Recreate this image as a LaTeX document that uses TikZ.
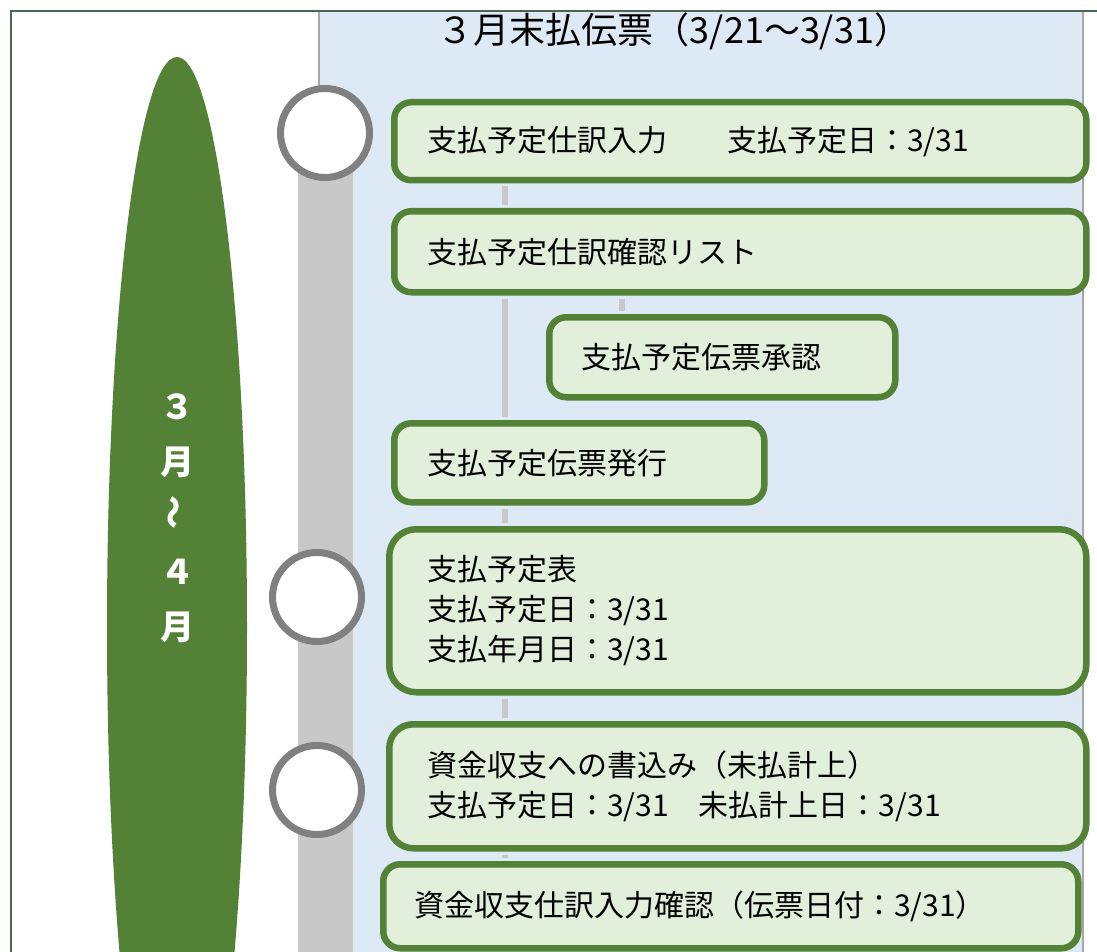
\documentclass[tikz,border=0pt]{standalone}
\usepackage{fontspec}
\setmainfont{Noto Sans CJK JP}
\usepackage{tikz}
\usetikzlibrary{positioning}

\definecolor{leafgreen}{HTML}{538135}
\definecolor{boxfill}{HTML}{E2EFDA}
\definecolor{panelblue}{HTML}{DDEAF6}
\definecolor{bargray}{HTML}{C8C8C8}
\definecolor{ringgray}{HTML}{808080}
\definecolor{framecol}{HTML}{4A6552}

\tikzset{
  stepbox/.style={draw=leafgreen, fill=boxfill, line width=6.5pt, rounded corners=17pt,
    anchor=north west, align=left, inner ysep=0pt, inner xsep=33pt,
    font=\fontsize{30}{40}\selectfont},
  ring/.style={circle, draw=ringgray, line width=7pt, fill=white, minimum size=89pt, inner sep=0pt},
  link/.style={draw=bargray, line width=6pt, shorten <=3pt, shorten >=3pt}
}

\begin{document}
\begin{tikzpicture}[x=1pt, y=-1pt]
\useasboundingbox (0,0) rectangle (1097,952);
\clip (0,0) rectangle (1097,952);

% panel and frame
\fill[panelblue] (319,11) rectangle (1083,960);
\draw[gray!70, line width=1.5pt] (319,11) -- (319,960);
\draw[gray!70, line width=1.5pt] (1083,11) -- (1083,960);
\draw[framecol, line width=2pt] (10.5,960) -- (10.5,11) -- (1097,11);

\node (title) at (674,31) {\fontsize{36}{40}\selectfont ３月末払伝票（3/21～3/31）};

% period
\fill[leafgreen] (177,627) ellipse [x radius=70, y radius=570];
\node[text=white, align=center, font=\fontsize{34}{55}\selectfont\bfseries] (period) at (177,518)
  {３\\月\\\rotatebox{90}{～}\\４\\月};

% time bar
\fill[bargray] (298,133) rectangle (353,960);
\node[ring] (c1) at (325,133) {};
\node[ring] (c2) at (317,597) {};
\node[ring] (c3) at (317,790) {};

% steps
\node[stepbox, text width=626pt, minimum height=78pt] (b1) at (391,99)
  {支払予定仕訳入力　　支払予定日：3/31};
\node[stepbox, text width=626pt, minimum height=81pt] (b2) at (391,208)
  {支払予定仕訳確認リスト};
\node[stepbox, inner xsep=32pt, text width=282pt, minimum height=80pt] (b3) at (546,314)
  {支払予定伝票承認};
\node[stepbox, text width=304pt, minimum height=79pt] (b4) at (391,420)
  {支払予定伝票発行};
\node[stepbox, rounded corners=27pt, inner xsep=38pt, text width=621pt, minimum height=163pt] (b5) at (386,526)
  {支払予定表\\支払予定日：3/31\\支払年月日：3/31};
\node[stepbox, rounded corners=24pt, inner xsep=38pt, text width=621pt, minimum height=124pt] (b6) at (386,721)
  {資金収支への書込み（未払計上）\\支払予定日：3/31　未払計上日：3/31};
\node[stepbox, inner xsep=31pt, text width=633pt, minimum height=84pt] (b7) at (380,861)
  {資金収支仕訳入力確認（伝票日付：3/31）};

% links
\coordinate (lx) at (505,0);
\coordinate (rx) at (622,0);
\draw[link] (lx |- b1.south) -- (lx |- b2.north);
\draw[link] (lx |- b2.south) -- (lx |- b4.north);
\draw[link] (rx |- b2.south) -- (rx |- b3.north);
\draw[link] (lx |- b4.south) -- (lx |- b5.north);
\draw[link] (lx |- b5.south) -- (lx |- b6.north);
\draw[link] (lx |- b6.south) -- (lx |- b7.north);
\end{tikzpicture}
\end{document}
